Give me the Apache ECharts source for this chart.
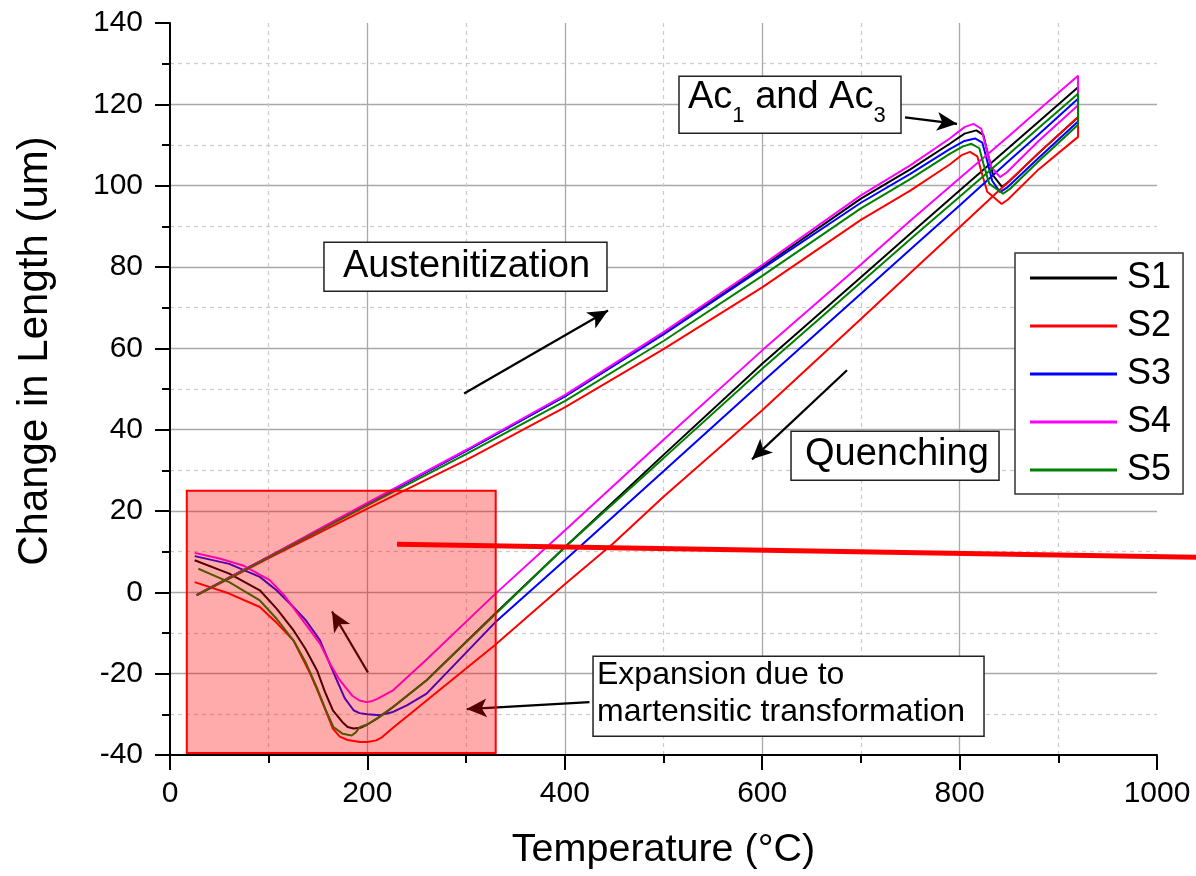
<!DOCTYPE html>
<html><head><meta charset="utf-8">
<script src="https://cdn.jsdelivr.net/npm/echarts/dist/echarts.min.js"></script>
<style>html,body{margin:0;padding:0;background:#fff}#c{width:1196px;height:876px}</style>
</head><body><div id="c"></div>
<script>
// ---------- data ----------
const seriesNames = ['S1', 'S2', 'S3', 'S4', 'S5'];
const seriesColors = ['#000000', '#ff0000', '#0000ff', '#ff00ff', '#008000'];

// [temperature °C, change in length um] : heating, hold at 920, quench
const S1 = [[27,-0.7],[60,3.6],[100,8.7],[150,15.2],[200,21.8],[300,34.8],[400,48.2],[500,63.6],[600,80.0],[700,96.8],[750,104.0],[790,110.3],[805,112.8],[817,113.6],[824,112.5],[828,108.5],[834,102.5],[843,99.7],[850,101.0],[880,108.0],[920,116.8],
  [920,124.2],[880,115.7],[850,109.4],[800,98.8],[750,88.2],[700,77.5],[600,56.2],[500,33.8],[400,11.1],[329,-5.3],[260,-21.6],[226,-28.2],[210,-31.0],[200,-32.5],[193,-33.3],[186,-33.5],[180,-33.1],[175,-32.0],[165,-29.0],[157,-24.5],[149,-19.2],[137,-13.8],[125,-9.3],[108,-4.0],[91,0.5],[60,4.6],[25,7.9]];
const S2 = [[27,-0.7],[60,3.4],[100,8.4],[150,14.5],[200,20.6],[300,32.5],[400,45.5],[500,59.8],[600,75.0],[700,91.6],[750,98.8],[790,105.2],[802,107.5],[810.5,108.3],[818,107.2],[822,103.5],[828,98.5],[842.6,95.5],[849,96.6],[880,104.0],[920,112.0],
  [920,116.9],[880,108.0],[850,101.1],[800,89.8],[750,78.5],[700,67.2],[600,44.8],[500,23.5],[449,12.0],[400,2.0],[329,-13.0],[260,-26.6],[226,-33.3],[215,-35.6],[209,-36.4],[200,-36.8],[192.5,-36.8],[180,-36.3],[172,-35.5],[165,-33.5],[159,-29.8],[150,-24.5],[142,-20.0],[125,-11.8],[108,-7.5],[91,-3.6],[60,-0.3],[25,2.5]];
const S3 = [[27,-0.7],[60,3.6],[100,8.7],[150,15.2],[200,21.8],[300,34.8],[400,48.2],[500,63.4],[600,79.6],[700,95.8],[750,102.9],[790,109.0],[805,111.0],[815.6,111.6],[823,110.6],[827,107.0],[833,101.2],[841,98.4],[848,99.5],[880,106.8],[920,115.8],
  [920,121.4],[880,112.6],[850,106.1],[800,95.1],[750,84.3],[700,73.4],[600,51.7],[500,29.8],[400,7.9],[329,-7.5],[260,-24.9],[240,-27.8],[225,-29.5],[213,-30.2],[200,-30.0],[192,-29.7],[186,-29.0],[177,-26.0],[169,-21.6],[160,-16.5],[152,-11.8],[138,-7.0],[125,-3.6],[108,0.5],[91,3.8],[60,7.0],[25,8.9]];
const S4 = [[27,-0.7],[60,3.6],[100,8.8],[150,15.4],[200,22.0],[300,35.0],[400,48.5],[500,64.0],[600,80.5],[700,97.6],[750,105.0],[790,111.6],[805,114.4],[814,115.2],[822,114.0],[826,110.3],[832,104.6],[841,102.1],[848,103.3],[880,111.0],[920,119.8],
  [920,127.0],[880,118.6],[850,112.2],[800,101.8],[750,91.4],[700,80.6],[600,59.5],[500,37.5],[400,15.2],[329,-0.5],[260,-16.5],[226,-24.1],[210,-26.2],[204,-26.8],[199,-27.0],[192,-26.6],[185,-25.5],[172,-21.6],[162,-17.5],[152,-12.6],[132,-6.1],[115,-0.5],[101,3.0],[74,6.6],[50,8.3],[25,9.7]];
const S5 = [[27,-0.7],[60,3.5],[100,8.6],[150,15.0],[200,21.4],[300,34.0],[400,47.0],[500,61.8],[600,77.8],[700,94.4],[750,101.6],[790,107.8],[803,109.6],[812,110.3],[820,109.2],[824,105.5],[830,100.5],[844,98.0],[851,99.2],[880,106.0],[920,115.0],
  [920,122.6],[880,114.2],[850,107.8],[800,97.3],[750,86.8],[700,76.2],[600,55.0],[500,33.0],[400,11.1],[329,-5.5],[260,-21.6],[226,-28.2],[210,-31.0],[200,-32.5],[192.5,-33.1],[188,-34.5],[184,-35.2],[175,-34.8],[165.5,-33.1],[157,-28.5],[148.6,-23.3],[137,-17.0],[125,-11.8],[108,-6.5],[91,-2.0],[60,2.5],[28.7,5.8]];
const seriesData = [S1, S2, S3, S4, S5];

// annotation arrows [from, to] in data coordinates
const arrowLines = [
  [[298, 48.9], [443.8, 69.3]],
  [[744.7, 116.8], [797.4, 115.2]],
  [[685.9, 54.6], [589.7, 32.7]],
  [[425, -27.0], [300.6, -28.7]],
  [[200.6, -19.7], [164.1, -4.7]]
];
// highlighted region [corner, corner]
const highlightBox = [[17, 25], [330, -39.5]];
// red marker line
const redLine = [[230, 11.8], [1040, 8.6]];

const xTitle = 'Temperature (°C)';
const yTitle = 'Change in Length (um)';

// ---------- chart ----------
const FONT = '"Liberation Sans", Arial, sans-serif';
const chart = echarts.init(document.getElementById('c'), null, {renderer: 'canvas'});

const series = seriesNames.map((n, i) => ({
  name: n, type: 'line', data: seriesData[i], symbol: 'none', showSymbol: false,
  lineStyle: {color: seriesColors[i], width: 2}, itemStyle: {color: seriesColors[i]},
  z: 2, silent: true, animation: false
}));
series.push({
  name: 'annot', type: 'line', data: [], silent: true, animation: false,
  markLine: {
    z: 3, silent: true, animation: false, symbol: ['none', 'arrow'], symbolSize: [14, 20],
    label: {show: false}, lineStyle: {color: '#000', width: 2.2, type: 'solid'},
    emphasis: {disabled: true},
    data: arrowLines.map(a => [{coord: a[0]}, {coord: a[1]}])
  },
  markArea: {
    z: 5, silent: true, animation: false, label: {show: false},
    itemStyle: {color: 'rgba(255,0,0,0.33)', borderColor: '#ff0000', borderWidth: 2},
    data: [[{coord: highlightBox[0]}, {coord: highlightBox[1]}]]
  }
});

const axisCommon = {
  type: 'value',
  axisLine: {show: true, onZero: false, lineStyle: {color: '#000', width: 2}},
  axisTick: {show: true, inside: false, length: 15, lineStyle: {color: '#000', width: 2}},
  minorTick: {show: true, splitNumber: 2, length: 8, lineStyle: {color: '#000', width: 2}},
  splitLine: {show: true, showMinLine: false, showMaxLine: false, lineStyle: {color: '#a8a8a8', width: 1.3}},
  minorSplitLine: {show: true, lineStyle: {color: '#cccccc', width: 1.3, type: [4, 4]}}
};

chart.setOption({
  animation: false,
  backgroundColor: '#fff',
  textStyle: {fontFamily: FONT},
  grid: {left: 170, right: 39, top: 23, bottom: 121, containLabel: false},
  xAxis: Object.assign({}, axisCommon, {
    min: 0, max: 1000, interval: 200,
    axisLabel: {fontSize: 30, color: '#000', margin: 24, fontFamily: FONT, formatter: v => String(v)},
    name: xTitle, nameLocation: 'middle', nameGap: 75,
    nameTextStyle: {fontSize: 39.5, color: '#000', fontFamily: FONT}
  }),
  yAxis: Object.assign({}, axisCommon, {
    min: -40, max: 140, interval: 20,
    axisLabel: {fontSize: 30, color: '#000', margin: 27, fontFamily: FONT, formatter: v => String(v)}
  }),
  legend: {
    data: seriesNames.map(n => ({name: n, icon: 'rect'})), orient: 'vertical', left: 1015, top: 253,
    padding: [5, 12, 4, 15], itemWidth: 87, itemHeight: 3, itemGap: 8,
    backgroundColor: '#fff', borderColor: '#333', borderWidth: 1.5,
    textStyle: {fontSize: 36, color: '#000', lineHeight: 40, padding: [0, 0, 0, 5], fontFamily: FONT},
    selectedMode: false
  },
  series: series
});

// ---------- annotation boxes ----------
const mctx = document.createElement('canvas').getContext('2d');
function tw(t, s) { mctx.font = s + 'px "Liberation Sans"'; return mctx.measureText(t).width; }
function px(p) { return chart.convertToPixel({gridIndex: 0}, p); }
function box(p, w, h) {
  return {type: 'rect', shape: {x: p[0], y: p[1], width: w, height: h},
    style: {fill: '#fff', stroke: '#222', lineWidth: 1.5}, z: 50, silent: true};
}
function txt(x, y, t, s, rot) {
  const e = {type: 'text', x: x, y: y, style: {text: t, font: s + 'px ' + FONT, fill: '#000',
    align: rot ? 'center' : 'left', verticalAlign: 'middle'}, z: 51, silent: true};
  if (rot) e.rotation = rot;
  return e;
}
const g = [];
// red marker line (extends beyond the plot area, so drawn unclipped)
const r0 = px(redLine[0]), r1 = px(redLine[1]);
g.push({type: 'line', shape: {x1: r0[0], y1: r0[1], x2: r1[0], y2: r1[1]},
  style: {stroke: '#ff0000', lineWidth: 5}, z: 40, silent: true});
// Austenitization
let p = px([156.0, 86.1]);
g.push(box(p, 283, 49), txt(p[0] + 19, p[1] + 24.5, 'Austenitization', 38));
// Quenching
p = px([629.2, 39.6]);
g.push(box(p, 208, 49), txt(p[0] + 14, p[1] + 23.5, 'Quenching', 38));
// Ac1 and Ac3
p = px([515.7, 126.9]);
g.push(box(p, 222, 57));
let x0 = p[0] + 9;
g.push(txt(x0, p[1] + 21, 'Ac', 38)); x0 += tw('Ac', 38);
g.push(txt(x0, p[1] + 39.5, '1', 22)); x0 += tw('1', 22);
g.push(txt(x0, p[1] + 21, ' and Ac', 38)); x0 += tw(' and Ac', 38);
g.push(txt(x0, p[1] + 39.5, '3', 22));
// Expansion
p = px([428.6, -15.7]);
g.push(box(p, 391, 80),
  txt(p[0] + 4, p[1] + 18.5, 'Expansion due to', 32),
  txt(p[0] + 4, p[1] + 55.5, 'martensitic transformation', 32));
// y axis title
g.push(txt(35, 351, yTitle, 42, Math.PI / 2));

chart.setOption({graphic: g});
</script>
</body></html>
